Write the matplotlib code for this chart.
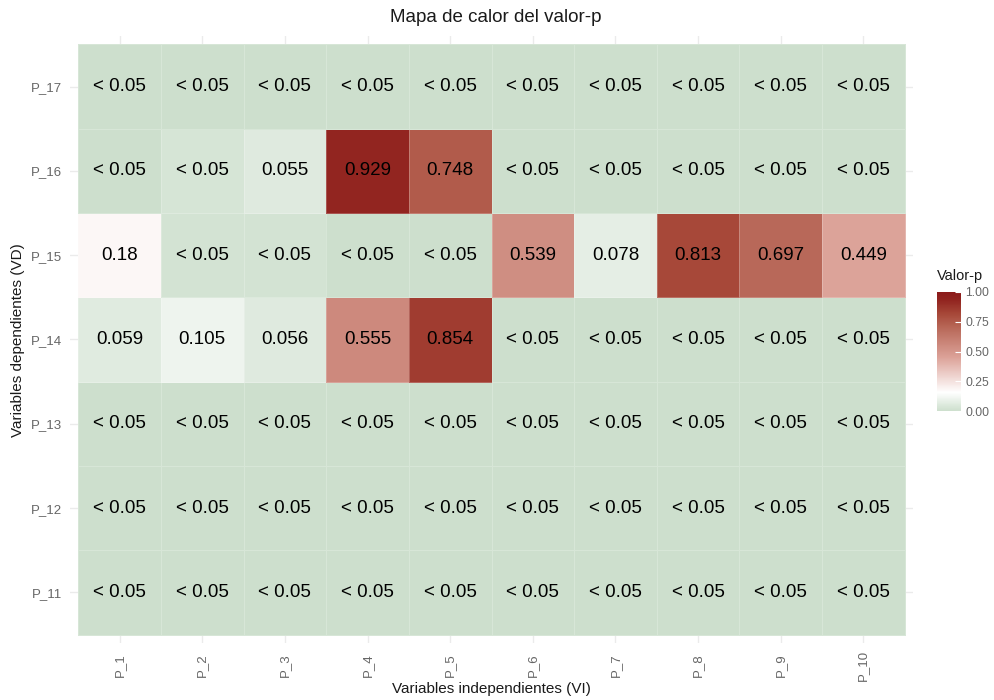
import numpy as np
import matplotlib
matplotlib.use("Agg")
import matplotlib.pyplot as plt
from matplotlib.colors import LinearSegmentedColormap, Normalize
from matplotlib.cm import ScalarMappable

plt.rcParams['font.family'] = ['Liberation Sans', 'DejaVu Sans']

# ---- data ----
x_labels = ["P_1", "P_2", "P_3", "P_4", "P_5", "P_6", "P_7", "P_8", "P_9", "P_10"]
y_labels = ["P_11", "P_12", "P_13", "P_14", "P_15", "P_16", "P_17"]  # bottom -> top

p_11 = [0.0, 0.0, 0.0, 0.0, 0.0, 0.0, 0.0, 0.0, 0.0, 0.0]
p_12 = [0.0, 0.0, 0.0, 0.0, 0.0, 0.0, 0.0, 0.0, 0.0, 0.0]
p_13 = [0.0, 0.0, 0.0, 0.0, 0.0, 0.0, 0.0, 0.0, 0.0, 0.0]
p_14 = [0.059, 0.105, 0.056, 0.555, 0.854, 0.0, 0.0, 0.0, 0.0, 0.0]
p_15 = [0.18, 0.02, 0.02, 0.0, 0.0, 0.539, 0.078, 0.813, 0.697, 0.449]
p_16 = [0.0, 0.03, 0.055, 0.929, 0.748, 0.0, 0.0, 0.0, 0.0, 0.0]
p_17 = [0.0, 0.0, 0.0, 0.0, 0.0, 0.0, 0.0, 0.0, 0.0, 0.0]

values = np.array([p_11, p_12, p_13, p_14, p_15, p_16, p_17])
threshold = 0.05

def fmt(v):
    if v < threshold:
        return "< 0.05"
    s = f"{v:.3f}".rstrip("0").rstrip(".")
    return s

# ---- colours ----
cmap = LinearSegmentedColormap.from_list(
    "pv",
    [(0.0, "#cddfcd"), (0.155, "#ffffff"), (0.45, "#dca298"),
     (0.70, "#b86858"), (0.82, "#a64738"), (0.93, "#922520"), (1.0, "#8b1a1a")])
norm = Normalize(0, 1)

fig = plt.figure(figsize=(9.94, 7.0), dpi=100)
W, H = 994, 700
ax = fig.add_axes([70 / W, 57 / H, (913 - 70) / W, (664 - 57) / H])

nx, ny = len(x_labels), len(y_labels)
xe = np.arange(nx + 1) + 0.5
ye = np.arange(ny + 1) + 0.5
ax.set_axisbelow(True)
ax.grid(True, color="#ebebeb", linewidth=1.0)
ax.pcolormesh(xe, ye, values, cmap=cmap, norm=norm,
              edgecolors=(1, 1, 1, 0.22), linewidth=0.6, zorder=2)

for j in range(ny):
    for i in range(nx):
        ax.text(i + 1, j + 1, fmt(values[j, i]), ha="center", va="center",
                fontsize=13.5, color="black", zorder=3)

ax.set_xlim(0.4, nx + 0.6)
ax.set_ylim(0.4, ny + 0.6)
ax.set_xticks(np.arange(1, nx + 1))
ax.set_xticklabels(x_labels, rotation=90, va="center", ha="center")
ax.set_yticks(np.arange(1, ny + 1))
ax.set_yticklabels(y_labels)
ax.tick_params(axis="x", length=0, pad=15.8, labelsize=9.5, labelcolor="#666666")
ax.tick_params(axis="y", length=0, pad=5.8, labelsize=9.5, labelcolor="#666666")
for s in ax.spines.values():
    s.set_visible(False)

fig.text(496 / W, 1 - 17 / H, "Mapa de calor del valor-p", ha="center", va="center",
         fontsize=13.5, color="#1a1a1a")
fig.text(491 / W, 1 - 689 / H, "Variables independientes (VI)", ha="center", va="center",
         fontsize=11, color="#1a1a1a")
fig.text(18 / W, 1 - 340 / H, "Variables dependientes (VD)", ha="center", va="center",
         fontsize=11, color="#1a1a1a", rotation=90)

# ---- colour bar ----
cax = fig.add_axes([937 / W, (700 - 411) / H, 24 / W, (411 - 292) / H])
cb = fig.colorbar(ScalarMappable(norm=norm, cmap=cmap), cax=cax,
                  ticks=[0, 0.25, 0.5, 0.75, 1.0])
cb.outline.set_visible(False)
cb.ax.set_yticklabels(["0.00", "0.25", "0.50", "0.75", "1.00"])
cb.ax.tick_params(direction="in", length=4, width=0.8, color="white",
                  labelsize=8.8, labelcolor="#666666", pad=3)
fig.text(937 / W, 1 - 276 / H, "Valor-p", ha="left", va="center",
         fontsize=10.5, color="#1a1a1a")

fig.savefig("out.png", dpi=100)
